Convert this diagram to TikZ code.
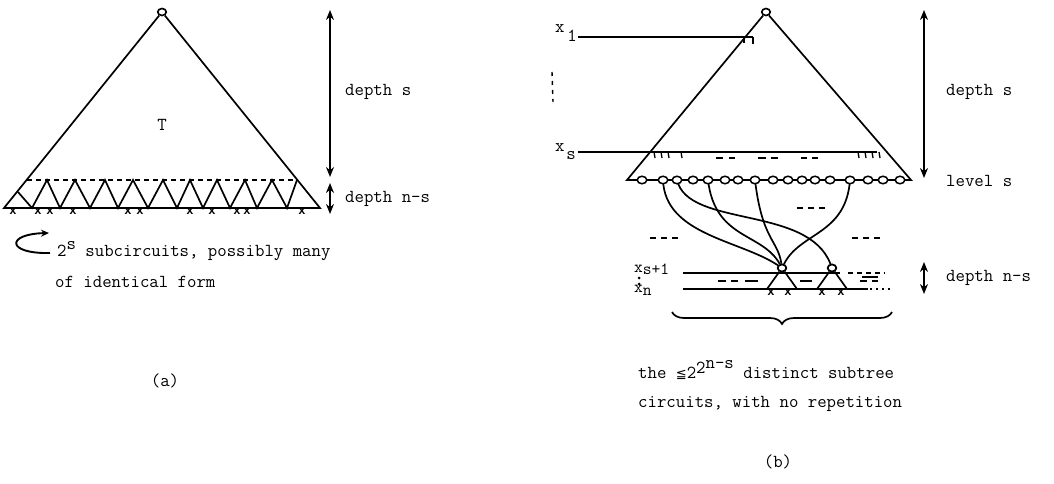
\documentclass[tikz,border=0pt]{standalone}
\usepackage{fontspec}
\usetikzlibrary{arrows.meta,decorations.pathreplacing,shapes.geometric}
\newfontfamily\tw{Liberation Mono}
\newfontfamily\dvs{DejaVu Sans}
\begin{document}
\begin{tikzpicture}[x=1pt,y=-1pt,
  ln/.style={line width=1.7pt},
  tx/.style={font=\ttfamily\fontsize{18.3}{21}\selectfont, inner sep=0pt},
  dbl/.style={line width=1.5pt, {Stealth[length=10pt,width=8pt]}-{Stealth[length=10pt,width=8pt]}},
  lev/.style={draw, ellipse, line width=1.5pt, fill=white, minimum width=9.5pt, minimum height=7.5pt, inner sep=0pt},
  rootc/.style={draw, ellipse, line width=1.6pt, fill=white, minimum width=8.5pt, minimum height=7pt, inner sep=0pt},
  xm/.style={font=\tw\bfseries\fontsize{12}{12}\selectfont, inner sep=0pt},
  dsh/.style={line width=1.3pt, dash pattern=on 5pt off 4pt},
  crv/.style={line width=1.7pt}]
\useasboundingbox (0,0) rectangle (1054,484);

% ---------------- (a) ----------------
\coordinate (aL) at (4,208);
\coordinate (aR) at (320,208);
\node[rootc] (ar) at (162,12) {};
\draw[ln] (ar) -- (aL) -- (aR) -- (ar);
\coordinate (ad1) at (27,180);
\coordinate (ad2) at (297,180);
\draw[dsh] (ad1) -- (ad2);
\draw[ln] (18,192) -- (32,208) -- (47,180) -- (60,208) -- (75,180) -- (90,208) -- (105,180)
  -- (118,208) -- (133,180) -- (148,208) -- (163,180) -- (177,208) -- (190,180) -- (203,208)
  -- (217,180) -- (230,208) -- (245,180) -- (257,208) -- (272,180) -- (287,208) -- (297,180);
\foreach \x in {13,38,50,73,128,140,190,212,237,247,302}
  \node[xm] (ax\x) at (\x,211) {x};
\node[tx] (aT) at (162,125) {T};
\coordinate (aS1) at (330,10);
\coordinate (aS2) at (330,177);
\draw[dbl] (aS1) -- (aS2);
\coordinate (aN1) at (330,183);
\coordinate (aN2) at (330,214);
\draw[dbl] (aN1) -- (aN2);
\node[tx, anchor=west] (adepths) at (345,92) {depth s};
\node[tx, anchor=west] (adepthns) at (345,199) {depth n-s};
\coordinate (ca1) at (50,253);
\coordinate (ca2) at (49,233);
\draw[line width=1.9pt,-{Stealth[length=8pt,width=7pt]}] (ca1) .. controls (6,254) and (6,234) .. (ca2);
\node[tx, anchor=base west] (asub1) at (57,256) {2\raisebox{0.8ex}{s} subcircuits, possibly many};
\node[tx, anchor=base west] (asub2) at (55,287) {of identical form};
\node[tx] (alab) at (165,381) {(a)};

% ---------------- (b) ----------------
\coordinate (bL) at (627,180);
\coordinate (bR) at (911,180);
\node[rootc] (br) at (766,12) {};
\draw[ln] (br) -- (bL) -- (bR) -- (br);

% variable lines
\coordinate (x1a) at (578,37);
\coordinate (x1b) at (753,37);
\draw[ln] (x1a) -- (x1b);
\draw[line width=1.3pt] (744,37) -- (744,43);
\draw[line width=1.3pt] (753,37) -- (753,44);
\coordinate (xsa) at (578,152);
\coordinate (xsb) at (877,152);
\draw[ln] (xsa) -- (xsb);
\foreach \x in {654,661,668,681,858,865,872,879}
  \draw[line width=1.3pt] (\x,152) -- (\x+1,158);
\foreach \a/\b in {716/723,729/735,758/766,771/778,801/807,812/818}
  \draw[line width=1.3pt] (\a,158) -- (\b,158);
\draw[line width=1.4pt, dash pattern=on 4pt off 5pt] (552,72) -- (553,102);
\node[tx, anchor=base west] (lx1) at (555,33) {x\hspace{0.15em}\raisebox{-1.1ex}{1}};
\node[tx, anchor=base west] (lxs) at (555,151) {x\hspace{0.1em}\raisebox{-1.1ex}{s}};

% subtree roots
\node[rootc] (s1) at (782,268) {};
\node[rootc] (s2) at (832,268) {};

% level s line and circle positions
\draw[line width=1.4pt] (bL) -- (bR);
\foreach \x [count=\i] in {642,663,677,693,708,725,738,755,773,788,802,815,830,850,868,883,900}
  \coordinate (cpos\i) at (\x,180);

% curves
\draw[crv] (cpos2) .. controls (665,235) and (740,240) .. (s1);
\draw[crv] (cpos3) .. controls (688,228) and (808,205) .. (s2);
\draw[crv] (cpos5) .. controls (715,240) and (762,232) .. (s1);
\draw[crv] (cpos8) .. controls (762,240) and (778,240) .. (s1);
\draw[crv] (cpos14) .. controls (846,235) and (800,232) .. (s1);

\foreach \i in {1,...,17}
  \node[lev] (c\i) at (cpos\i) {};

% lower lines
\coordinate (xs1a) at (683,273);
\coordinate (xs1b) at (840,273);
\draw[ln] (xs1a) -- (xs1b);
\coordinate (xna) at (683,289);
\coordinate (xnb) at (868,289);
\draw[ln] (xna) -- (xnb);
\draw[line width=1.1pt, dash pattern=on 5pt off 4pt] (848,273) -- (885,273);
\draw[line width=1.1pt, dash pattern=on 2pt off 4pt] (870,289) -- (892,289);
\foreach \a/\b in {718/726,731/738,745/758,800/812,860/867,872/878}
  \draw[line width=1.5pt] (\a,281) -- (\b,281);
\draw[line width=1.2pt] (862,277) -- (878,277);

% subtree triangles
\coordinate (t1L) at (767,289); \coordinate (t1R) at (797,289);
\coordinate (t2L) at (817,289); \coordinate (t2R) at (847,289);
\draw[ln] (s1) -- (t1L) -- (t1R) -- (s1);
\draw[ln] (s2) -- (t2L) -- (t2R) -- (s2);
\foreach \x in {771,788,822,841}
  \node[xm] (bx\x) at (\x,292) {x};
\node[rootc] (s1b) at (s1) {};
\node[rootc] (s2b) at (s2) {};

\node[tx, anchor=base west, font=\ttfamily\fontsize{17}{20}\selectfont] (lxs1) at (634,272) {x\raisebox{-0.4ex}{s+1}};
\node[tx, anchor=base west, font=\ttfamily\fontsize{17}{20}\selectfont] (lxn) at (634,292) {x\raisebox{-0.5ex}{n}};
\fill (639,278) circle (1.5pt);
\fill (639,284) circle (1.5pt);

% dashes between
\foreach \a/\b/\y in {797/827/208,650/682/238,852/883/238}
  \draw[line width=1.5pt, dash pattern=on 6pt off 5pt] (\a,\y) -- (\b,\y);

% brace
\coordinate (brL) at (672,312);
\coordinate (brR) at (892,312);
\draw[line width=1.7pt, decorate, decoration={brace, mirror, amplitude=12pt}] (brL) -- (brR);

\node[tx, anchor=base west] (bt1) at (638,378) {the {\dvs\fontsize{13}{13}\selectfont ≦}2\raisebox{0.6ex}{2\raisebox{0.6ex}{n-s}} distinct subtree};
\node[tx, anchor=base west] (bt2) at (638,407) {circuits, with no repetition};
\node[tx] (blab) at (778,462) {(b)};

% right arrows
\coordinate (bS1) at (924,10);
\coordinate (bS2) at (924,178);
\draw[dbl] (bS1) -- (bS2);
\coordinate (bN1) at (924,262);
\coordinate (bN2) at (924,294);
\draw[dbl] (bN1) -- (bN2);
\node[tx, anchor=west] (bdepths) at (946,92) {depth s};
\node[tx, anchor=west] (blevel) at (946,181) {level s};
\node[tx, anchor=west] (bdepthns) at (946,278) {depth n-s};
\end{tikzpicture}
\end{document}
